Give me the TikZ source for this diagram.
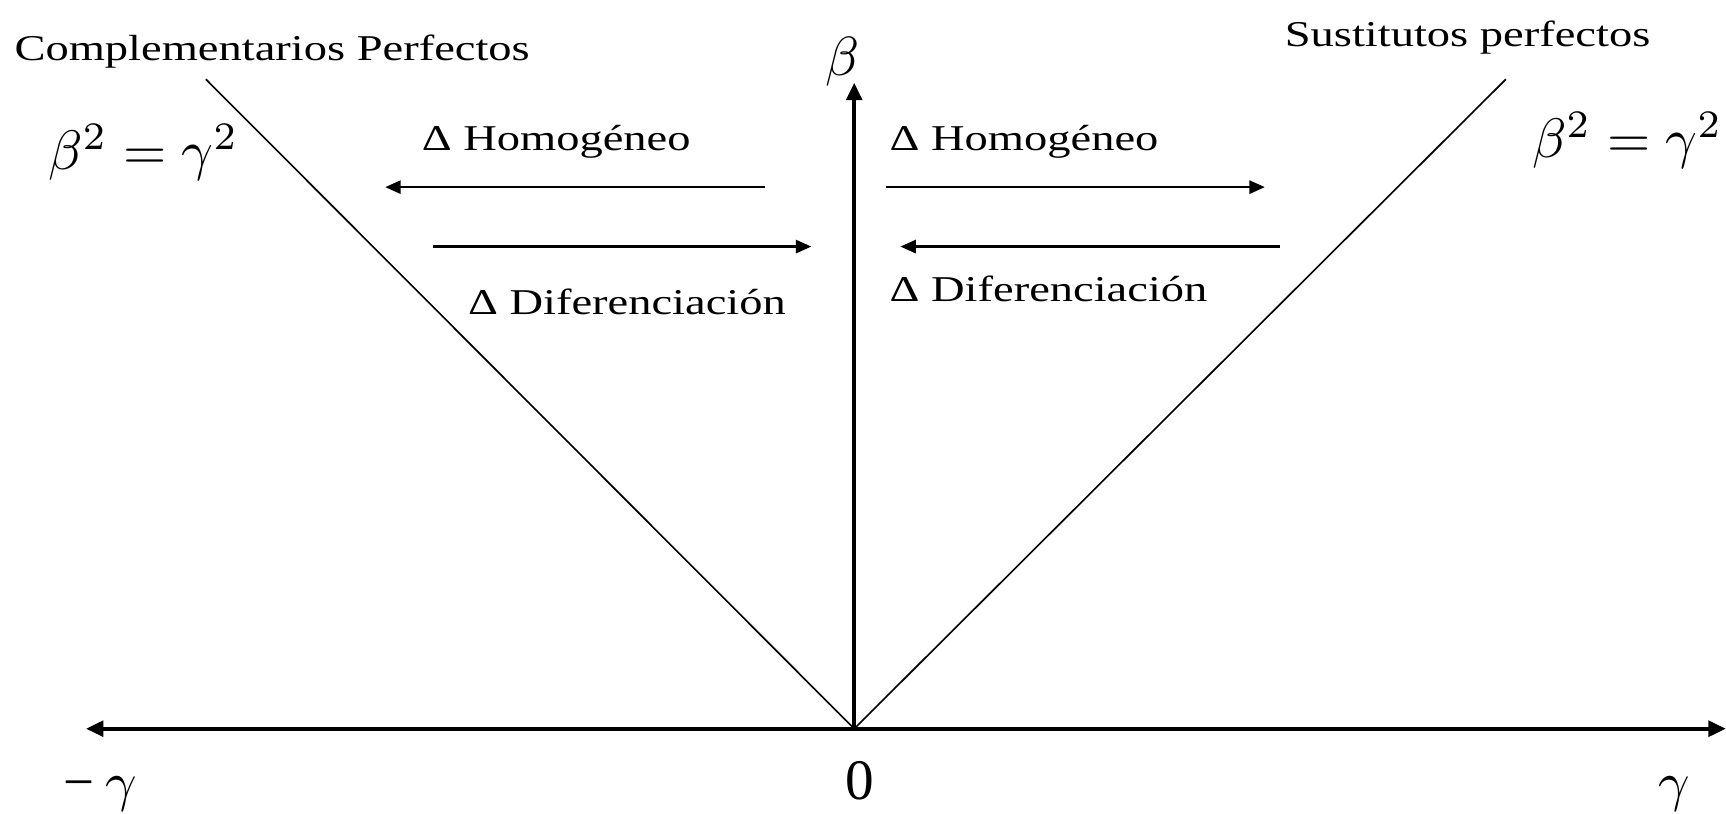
\documentclass[tikz,border=0pt]{standalone}
\usepackage{fontspec}
\setmainfont{Liberation Serif}
\newfontfamily\lblfont{Liberation Serif}[FakeStretch=1.28]
\usetikzlibrary{arrows.meta}
\newcommand\eqtext{$\beta^{2}=\gamma^{2}$}
\begin{document}
\begin{tikzpicture}[x=1pt,y=-1pt,
 axis/.style={line width=4pt,-{Triangle[length=16pt,width=14pt]}},
 diag/.style={line width=1.5pt},
 move/.style={line width=2pt,-{Triangle[length=14pt,width=12pt]}},
 lbl/.style={inner sep=0pt,anchor=base west,font=\lblfont\fontsize{33}{40}\selectfont},
 eq/.style={inner sep=0pt,anchor=base west,font=\fontsize{10}{12}\selectfont,scale=5.05},
 ax/.style={inner sep=0pt,anchor=base,font=\fontsize{10}{12}\selectfont,scale=5.0}]
\useasboundingbox (0,0) rectangle (1568,739);
\coordinate (O) at (776,662);
\coordinate (xl) at (78,662);
\coordinate (xr) at (1568,662);
\coordinate (yt) at (776,75);
\coordinate (dl) at (187,72);
\coordinate (dr) at (1368,72);
\coordinate (hl1) at (695,170);
\coordinate (hl2) at (350,170);
\coordinate (dl1) at (393,224);
\coordinate (dl2) at (737,224);
\coordinate (hr1) at (805,170);
\coordinate (hr2) at (1149,170);
\coordinate (dr1) at (1163,224);
\coordinate (dr2) at (818,224);
\draw[diag] (O) -- (dl);
\draw[diag] (O) -- (dr);
\draw[axis] (O) -- (xl);
\draw[axis] (O) -- (xr);
\draw[axis] (O) -- (yt);
\draw[move] (hl1) -- (hl2);
\draw[move] (dl1) -- (dl2);
\draw[move] (hr1) -- (hr2);
\draw[move] (dr1) -- (dr2);
\node[lbl] (cp) at (13,55) {Complementarios Perfectos};
\node[lbl] (sp) at (1167,42) {Sustitutos perfectos};
\node[lbl] (hl) at (383,137) {Δ Homogéneo};
\node[lbl] (hr) at (808,137) {Δ Homogéneo};
\node[lbl] (fl) at (425,286) {Δ Diferenciación};
\node[lbl] (fr) at (808,274) {Δ Diferenciación};
\node[eq] (eql) at (43,154) {\eqtext};
\node[eq] (eqr) at (1391,143) {\eqtext};
\node[ax] (bl) at (765,69) {$\beta$};
\node[ax,scale=1.04] (zl) at (781,726) {0};
\node[ax] (gl) at (1521,727) {$\gamma$};
\node[ax,anchor=base west] (mgl) at (57,727) {−\hspace{0.2em}$\gamma$};
\end{tikzpicture}
\end{document}
